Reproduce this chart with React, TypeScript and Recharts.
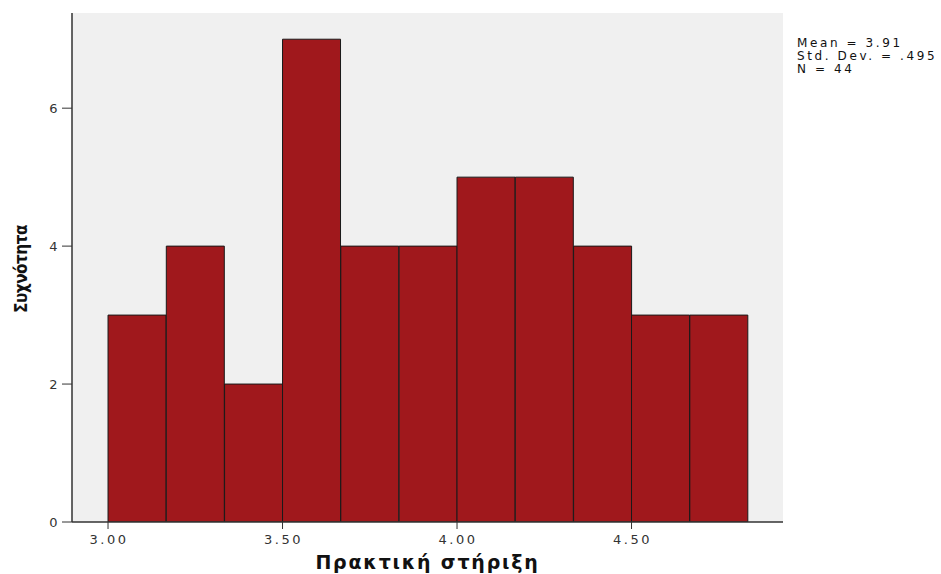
import React from 'react';
import { ComposedChart, Bar, XAxis, YAxis, CartesianGrid } from 'recharts';

const binMids = [3.083, 3.25, 3.417, 3.583, 3.75, 3.917, 4.083, 4.25, 4.417, 4.583, 4.75];
const counts = [3, 4, 2, 7, 4, 4, 5, 5, 4, 3, 3];
const xTicks = [3, 3.5, 4, 4.5];
const yTicks = [0, 2, 4, 6];
const statLines = ['Mean = 3.91', 'Std. Dev. = .495', 'N = 44'];
const xTitle = 'Πρακτική στήριξη';
const yTitle = 'Συχνότητα';

const data = binMids.map((m, i) => ({ mid: m, count: counts[i] }));

const FONT = '"DejaVu Sans", Verdana, sans-serif';
const tickStyle = { fontSize: 13, fill: '#333', fontFamily: FONT, letterSpacing: 2.5 };
const X_DOMAIN: [number, number] = [2.8968, 4.934];
const Y_DOMAIN: [number, number] = [0, 7.38];

const XTick = (props: any) => {
  const { x, y, payload } = props;
  return (
    <text x={x + 1} y={y + 4} dy="0.71em" textAnchor="middle" {...tickStyle}>
      {Number(payload.value).toFixed(2)}
    </text>
  );
};

export default function App() {
  return (
    <div style={{ position: 'absolute', left: 0, top: 0, width: 941, height: 574, background: '#fff' }}>
      <ComposedChart
        width={941}
        height={574}
        data={data}
        margin={{ top: 13, right: 158, bottom: 0, left: 0 }}
        barCategoryGap={0}
        barGap={0}
      >
        <CartesianGrid fill="#f0f0f0" horizontal={false} vertical={false} />
        <XAxis
          dataKey="mid"
          type="number"
          domain={X_DOMAIN}
          allowDataOverflow
          ticks={xTicks}
          tick={<XTick />}
          tickSize={7}
          tickLine={{ stroke: '#333' }}
          axisLine={{ stroke: '#333', strokeWidth: 1.5 }}
          height={52}
          label={({ viewBox }: any) => (
            <text
              x={viewBox.x + viewBox.width / 2}
              y={569}
              textAnchor="middle"
              fontSize={19}
              fontWeight="bold"
              fontFamily={FONT}
              fill="#111"
              letterSpacing={1.8}
            >
              {xTitle}
            </text>
          )}
        />
        <XAxis
          xAxisId="top"
          orientation="top"
          type="number"
          domain={X_DOMAIN}
          allowDataOverflow
          tick={false}
          tickLine={false}
          height={0}
          axisLine={{ stroke: '#555', strokeWidth: 1.5 }}
        />
        <YAxis
          type="number"
          domain={Y_DOMAIN}
          allowDataOverflow
          ticks={yTicks}
          tick={tickStyle}
          tickSize={10}
          tickLine={{ stroke: '#333' }}
          axisLine={{ stroke: '#333', strokeWidth: 1.5 }}
          width={72}
          label={() => {
            const cy = 269;
            return (
              <text
                x={27}
                y={cy}
                transform={`rotate(-90, 27, ${cy})`}
                textAnchor="middle"
                fontSize={17}
                fontWeight="bold"
                fontFamily='"DejaVu Sans Condensed", "DejaVu Sans", sans-serif'
                fill="#111"
                letterSpacing={-0.5}
              >
                {yTitle}
              </text>
            );
          }}
        />
        <YAxis
          yAxisId="right"
          orientation="right"
          type="number"
          domain={Y_DOMAIN}
          allowDataOverflow
          tick={false}
          tickLine={false}
          width={0}
          axisLine={{ stroke: '#555', strokeWidth: 1.5 }}
        />
        <Bar
          dataKey="count"
          fill="#a0181c"
          stroke="#1a1a1a"
          strokeWidth={1}
          isAnimationActive={false}
        />
      </ComposedChart>
      <div
        style={{
          position: 'absolute',
          left: 797,
          top: 37,
          fontFamily: FONT,
          fontSize: 12,
          lineHeight: '13px',
          color: '#111',
          letterSpacing: 2.6,
          whiteSpace: 'pre',
        }}
      >
        {statLines.map((s) => (
          <div key={s}>{s}</div>
        ))}
      </div>
    </div>
  );
}
